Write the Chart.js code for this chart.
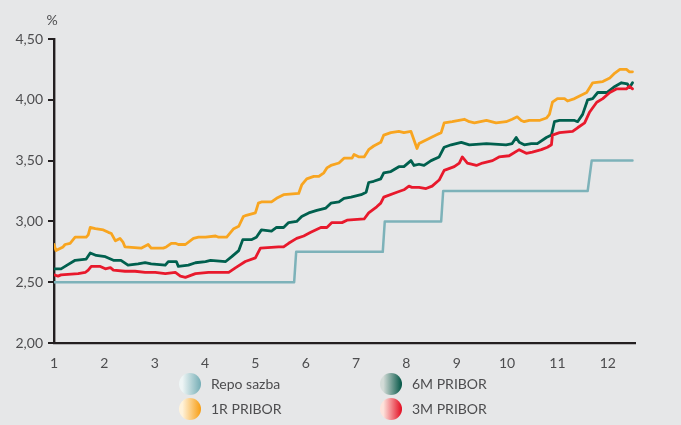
<!DOCTYPE html>
<html>
<head>
<meta charset="utf-8">
<script src="https://cdn.jsdelivr.net/npm/chart.js@4.4.1/dist/chart.umd.min.js"></script>
<style>
  html, body { margin: 0; padding: 0; background: #e6e7e8; }
  #wrap { width: 681px; height: 425px; }
</style>
</head>
<body>
<div id="wrap"><canvas id="chart-pribor" width="681" height="425"></canvas></div>
<script>
// osa x = mesice (1..12), hodnoty v %
const yTicks = [2.0, 2.5, 3.0, 3.5, 4.0, 4.5];
const xTicks = [1, 2, 3, 4, 5, 6, 7, 8, 9, 10, 11, 12];

// Repo sazba (schodovita)
const repoX = [1.00, 5.77, 5.81, 7.53, 7.57, 8.69, 8.73, 11.60, 11.68, 12.49];
const repoY = [2.50, 2.50, 2.75, 2.75, 3.00, 3.00, 3.25, 3.25, 3.50, 3.50];

// 1R PRIBOR
const r1X = [
  1.00, 1.04, 1.18, 1.22, 1.32, 1.42, 1.64, 1.68, 1.72, 1.82,
  1.98, 2.08, 2.14, 2.22, 2.31, 2.37, 2.41, 2.73, 2.87, 2.93,
  3.17, 3.23, 3.33, 3.41, 3.47, 3.61, 3.77, 3.87, 4.01, 4.21,
  4.27, 4.43, 4.57, 4.67, 4.76, 4.82, 5.00, 5.06, 5.12, 5.32,
  5.42, 5.56, 5.86, 5.92, 6.02, 6.16, 6.26, 6.36, 6.42, 6.50,
  6.66, 6.76, 6.92, 6.96, 7.06, 7.16, 7.25, 7.35, 7.49, 7.55,
  7.69, 7.85, 7.95, 8.09, 8.15, 8.21, 8.25, 8.39, 8.59, 8.69,
  8.75, 8.91, 9.15, 9.25, 9.35, 9.59, 9.78, 9.98, 10.10, 10.20,
  10.28, 10.34, 10.44, 10.64, 10.78, 10.84, 10.90, 11.00, 11.14, 11.20,
  11.34, 11.48, 11.58, 11.70, 11.90, 12.04, 12.14, 12.24, 12.37, 12.43,
  12.49
];
const r1Y = [
  2.81, 2.76, 2.79, 2.81, 2.82, 2.87, 2.87, 2.89, 2.95, 2.94,
  2.93, 2.91, 2.90, 2.84, 2.86, 2.83, 2.79, 2.78, 2.81, 2.78,
  2.78, 2.79, 2.82, 2.82, 2.81, 2.81, 2.86, 2.87, 2.87, 2.88,
  2.87, 2.87, 2.94, 2.96, 3.04, 3.05, 3.07, 3.15, 3.16, 3.16,
  3.19, 3.22, 3.23, 3.30, 3.35, 3.37, 3.37, 3.40, 3.44, 3.46,
  3.48, 3.52, 3.52, 3.55, 3.53, 3.53, 3.59, 3.62, 3.65, 3.71,
  3.73, 3.74, 3.73, 3.74, 3.67, 3.60, 3.64, 3.67, 3.71, 3.73,
  3.81, 3.82, 3.84, 3.82, 3.81, 3.83, 3.81, 3.82, 3.84, 3.86,
  3.83, 3.82, 3.83, 3.83, 3.85, 3.88, 3.98, 4.01, 4.01, 3.99,
  4.01, 4.04, 4.06, 4.14, 4.15, 4.18, 4.22, 4.25, 4.25, 4.23,
  4.23
];

// 6M PRIBOR
const m6X = [
  1.00, 1.14, 1.22, 1.42, 1.64, 1.72, 1.84, 2.02, 2.18, 2.33,
  2.47, 2.67, 2.81, 2.93, 3.21, 3.27, 3.43, 3.47, 3.67, 3.81,
  4.01, 4.11, 4.41, 4.53, 4.67, 4.75, 4.92, 5.02, 5.12, 5.32,
  5.42, 5.56, 5.66, 5.82, 5.92, 6.06, 6.22, 6.40, 6.50, 6.66,
  6.76, 6.90, 7.10, 7.20, 7.25, 7.35, 7.49, 7.55, 7.69, 7.85,
  7.95, 8.09, 8.15, 8.25, 8.35, 8.49, 8.65, 8.75, 8.89, 9.09,
  9.25, 9.59, 9.98, 10.10, 10.18, 10.24, 10.34, 10.48, 10.60, 10.78,
  10.88, 10.94, 11.04, 11.34, 11.40, 11.50, 11.60, 11.70, 11.80, 11.98,
  12.14, 12.27, 12.39, 12.43, 12.49
];
const m6Y = [
  2.61, 2.61, 2.63, 2.68, 2.69, 2.74, 2.72, 2.71, 2.68, 2.68,
  2.64, 2.65, 2.66, 2.65, 2.64, 2.67, 2.67, 2.63, 2.64, 2.66,
  2.67, 2.68, 2.67, 2.71, 2.76, 2.85, 2.85, 2.87, 2.93, 2.92,
  2.95, 2.95, 2.99, 3.00, 3.04, 3.07, 3.09, 3.11, 3.15, 3.16,
  3.19, 3.20, 3.22, 3.24, 3.32, 3.33, 3.35, 3.40, 3.41, 3.45,
  3.45, 3.50, 3.46, 3.47, 3.46, 3.50, 3.53, 3.61, 3.63, 3.65,
  3.63, 3.64, 3.63, 3.64, 3.69, 3.65, 3.63, 3.64, 3.64, 3.69,
  3.71, 3.82, 3.83, 3.83, 3.82, 3.88, 4.00, 4.01, 4.06, 4.06,
  4.11, 4.14, 4.13, 4.10, 4.14
];

// 3M PRIBOR
const m3X = [
  1.00, 1.08, 1.14, 1.48, 1.62, 1.68, 1.74, 1.92, 2.02, 2.12,
  2.18, 2.41, 2.61, 2.81, 3.01, 3.21, 3.41, 3.51, 3.61, 3.81,
  4.07, 4.21, 4.47, 4.61, 4.80, 5.00, 5.10, 5.46, 5.56, 5.66,
  5.82, 5.96, 6.10, 6.30, 6.42, 6.52, 6.72, 6.82, 7.16, 7.25,
  7.41, 7.49, 7.55, 7.81, 7.95, 8.05, 8.11, 8.25, 8.39, 8.51,
  8.65, 8.75, 8.95, 9.05, 9.11, 9.21, 9.39, 9.51, 9.71, 9.84,
  10.04, 10.24, 10.38, 10.50, 10.68, 10.80, 10.88, 10.90, 11.04, 11.30,
  11.40, 11.54, 11.64, 11.78, 11.90, 12.04, 12.18, 12.37, 12.43, 12.49
];
const m3Y = [
  2.56, 2.55, 2.56, 2.57, 2.58, 2.60, 2.63, 2.63, 2.61, 2.62,
  2.60, 2.59, 2.59, 2.58, 2.58, 2.57, 2.58, 2.55, 2.54, 2.57,
  2.58, 2.58, 2.58, 2.62, 2.67, 2.70, 2.78, 2.79, 2.79, 2.82,
  2.86, 2.88, 2.91, 2.95, 2.95, 2.99, 2.99, 3.01, 3.02, 3.07,
  3.12, 3.15, 3.20, 3.24, 3.26, 3.29, 3.28, 3.28, 3.27, 3.29,
  3.34, 3.42, 3.45, 3.48, 3.53, 3.48, 3.46, 3.48, 3.50, 3.53,
  3.54, 3.59, 3.56, 3.57, 3.59, 3.61, 3.63, 3.71, 3.73, 3.74,
  3.77, 3.81, 3.90, 3.98, 4.01, 4.06, 4.09, 4.09, 4.11, 4.09
];

const legendOrder = ["Repo sazba", "6M PRIBOR", "1R PRIBOR", "3M PRIBOR"];

const textColor = "#4d4d4f";
const axisColor = "#231f20";
const fontFamily = "Lato, 'Open Sans', sans-serif";

function toPoints(xs, ys) {
  return xs.map((x, i) => ({ x: x, y: ys[i] }));
}

// vlastni legenda s prechodovymi kolecky + znacka "%"
const gradientLegend = {
  id: "gradientLegend",
  afterDraw(chart) {
    const ctx = chart.ctx;
    const cols = [190, 391];
    const rows = [384, 409];
    ctx.save();
    ctx.fillStyle = textColor;
    ctx.font = "14px " + fontFamily;
    ctx.textAlign = "center";
    ctx.textBaseline = "middle";
    ctx.fillText("%", 52, 20);

    ctx.textAlign = "left";
    legendOrder.forEach((label, i) => {
      const ds = chart.data.datasets.find((d) => d.label === label);
      const cx = cols[i % 2];
      const cy = rows[Math.floor(i / 2)];
      const g = ctx.createLinearGradient(cx - 11, 0, cx + 11, 0);
      g.addColorStop(0, ds.lightColor);
      g.addColorStop(0.15, ds.lightColor);
      g.addColorStop(1, ds.darkColor);
      ctx.beginPath();
      ctx.arc(cx, cy, 11, 0, Math.PI * 2);
      ctx.fillStyle = g;
      ctx.fill();
      ctx.fillStyle = textColor;
      ctx.fillText(label, cx + 21, cy);
    });
    ctx.restore();
  },
};

const ctx = document.getElementById("chart-pribor").getContext("2d");
const chartPribor = new Chart(ctx, {
  type: "line",
  data: {
    datasets: [
      {
        label: "3M PRIBOR",
        data: toPoints(m3X, m3Y),
        borderColor: "#e8192c",
        lightColor: "#fde3dc",
        darkColor: "#e30a1f",
        borderWidth: 2.8,
      },
      {
        label: "6M PRIBOR",
        data: toPoints(m6X, m6Y),
        borderColor: "#00604e",
        lightColor: "#d3dbd7",
        darkColor: "#005444",
        borderWidth: 2.8,
      },
      {
        label: "1R PRIBOR",
        data: toPoints(r1X, r1Y),
        borderColor: "#f8a520",
        lightColor: "#fff3dc",
        darkColor: "#f79d12",
        borderWidth: 2.8,
      },
      {
        label: "Repo sazba",
        data: toPoints(repoX, repoY),
        borderColor: "#7db2b9",
        lightColor: "#eef5f5",
        darkColor: "#74adb5",
        borderWidth: 2.5,
      },
    ],
  },
  options: {
    responsive: false,
    animation: false,
    devicePixelRatio: 1,
    layout: {
      padding: { top: 39, right: 46, bottom: 0, left: 0 },
    },
    elements: {
      point: { radius: 0 },
      line: { tension: 0, borderJoinStyle: "round", borderCapStyle: "round" },
    },
    plugins: {
      legend: { display: false },
      tooltip: { enabled: false },
    },
    scales: {
      x: {
        type: "linear",
        min: 1,
        max: 12.54,
        afterFit: (scale) => {
          scale.height = 82;
        },
        afterBuildTicks: (scale) => {
          scale.ticks = xTicks.map((v) => ({ value: v }));
        },
        grid: { display: false },
        border: { display: true, color: axisColor, width: 2.2 },
        ticks: {
          color: textColor,
          font: { family: fontFamily, size: 14 },
          padding: 4,
          maxRotation: 0,
        },
      },
      y: {
        min: 2,
        max: 4.5,
        afterFit: (scale) => {
          scale.width = 54;
        },
        afterBuildTicks: (scale) => {
          scale.ticks = yTicks.map((v) => ({ value: v }));
        },
        grid: {
          drawOnChartArea: false,
          drawTicks: true,
          tickLength: 6,
          color: axisColor,
          lineWidth: 2,
        },
        border: { display: true, color: axisColor, width: 2.4 },
        ticks: {
          color: textColor,
          font: { family: fontFamily, size: 14 },
          padding: 5,
          callback: (value) => value.toFixed(2).replace(".", ","),
        },
      },
    },
  },
  plugins: [gradientLegend],
});
</script>
</body>
</html>
